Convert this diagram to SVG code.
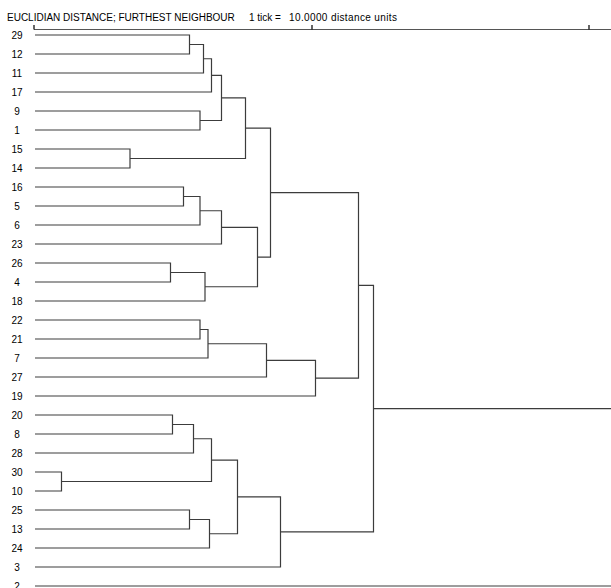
<svg xmlns="http://www.w3.org/2000/svg" width="611" height="588" viewBox="0 0 611 588">
<style>
text{font-family:"Liberation Sans",Arial,sans-serif;font-size:10px;fill:#000}
.lbl{text-anchor:middle}
.ln{fill:none;stroke:#3c3c3c;stroke-width:1.2}
.ax{fill:none;stroke:#555;stroke-width:1.2}
.tk{stroke:#000;stroke-width:1.2}
</style>
<rect width="611" height="588" fill="#fff"/>
<g id="title">
<text x="7" y="21">EUCLIDIAN DISTANCE; FURTHEST NEIGHBOUR<tspan x="249">1 tick =</tspan><tspan x="289" textLength="108" lengthAdjust="spacing">10.0000 distance units</tspan></text>
</g>
<g id="axis">
<path class="ax" d="M34 29.5H611"/>
<path class="tk" d="M34 25V29.5M312 25V29.5M589 25V29.5"/>
</g>
<g id="nodes">
<g id="n29"><text class="lbl" x="17" y="38.5">29</text></g>
<g id="n12"><text class="lbl" x="17" y="57.5">12</text></g>
<g id="n11"><text class="lbl" x="17" y="76.5">11</text></g>
<g id="n17"><text class="lbl" x="17" y="95.5">17</text></g>
<g id="n9"><text class="lbl" x="17" y="114.5">9</text></g>
<g id="n1"><text class="lbl" x="17" y="133.5">1</text></g>
<g id="n15"><text class="lbl" x="17" y="152.5">15</text></g>
<g id="n14"><text class="lbl" x="17" y="171.5">14</text></g>
<g id="n16"><text class="lbl" x="17" y="190.5">16</text></g>
<g id="n5"><text class="lbl" x="17" y="209.5">5</text></g>
<g id="n6"><text class="lbl" x="17" y="228.5">6</text></g>
<g id="n23"><text class="lbl" x="17" y="247.5">23</text></g>
<g id="n26"><text class="lbl" x="17" y="266.5">26</text></g>
<g id="n4"><text class="lbl" x="17" y="285.5">4</text></g>
<g id="n18"><text class="lbl" x="17" y="304.5">18</text></g>
<g id="n22"><text class="lbl" x="17" y="323.5">22</text></g>
<g id="n21"><text class="lbl" x="17" y="342.5">21</text></g>
<g id="n7"><text class="lbl" x="17" y="361.5">7</text></g>
<g id="n27"><text class="lbl" x="17" y="380.5">27</text></g>
<g id="n19"><text class="lbl" x="17" y="399.5">19</text></g>
<g id="n20"><text class="lbl" x="17" y="418.5">20</text></g>
<g id="n8"><text class="lbl" x="17" y="437.5">8</text></g>
<g id="n28"><text class="lbl" x="17" y="456.5">28</text></g>
<g id="n30"><text class="lbl" x="17" y="475.5">30</text></g>
<g id="n10"><text class="lbl" x="17" y="494.5">10</text></g>
<g id="n25"><text class="lbl" x="17" y="513.5">25</text></g>
<g id="n13"><text class="lbl" x="17" y="532.5">13</text></g>
<g id="n24"><text class="lbl" x="17" y="551.5">24</text></g>
<g id="n3"><text class="lbl" x="17" y="570.5">3</text></g>
<g id="n2"><text class="lbl" x="17" y="589.5">2</text></g>
</g>
<g id="connectors" class="ln">
<path class="ln" d="M35 35H189.5V54H35"/>
<path class="ln" d="M189.5 44.5H203.5V73H35"/>
<path class="ln" d="M203.5 58.75H211.5V92H35"/>
<path class="ln" d="M35 111H200V130H35"/>
<path class="ln" d="M211.5 75.4H221.5V120.5H200"/>
<path class="ln" d="M35 149H130V168H35"/>
<path class="ln" d="M221.5 97.9H245.5V158.5H130"/>
<path class="ln" d="M35 187H183.5V206H35"/>
<path class="ln" d="M183.5 196.5H200V225H35"/>
<path class="ln" d="M200 210.75H221.5V244H35"/>
<path class="ln" d="M35 263H170.5V282H35"/>
<path class="ln" d="M170.5 272.5H205V301H35"/>
<path class="ln" d="M221.5 227.4H257.5V286.75H205"/>
<path class="ln" d="M245.5 128.2H270.5V257.1H257.5"/>
<path class="ln" d="M35 320H200V339H35"/>
<path class="ln" d="M200 329.5H208V358H35"/>
<path class="ln" d="M208 343.75H266.5V377H35"/>
<path class="ln" d="M266.5 360.4H315.5V396H35"/>
<path class="ln" d="M270.5 192.6H358.5V378.2H315.5"/>
<path class="ln" d="M35 415H172.5V434H35"/>
<path class="ln" d="M172.5 424.5H193.5V453H35"/>
<path class="ln" d="M35 472H61.5V491H35"/>
<path class="ln" d="M193.5 438.75H211.5V481.5H61.5"/>
<path class="ln" d="M35 510H189.5V529H35"/>
<path class="ln" d="M189.5 519.5H209.5V548H35"/>
<path class="ln" d="M211.5 460.1H237.5V533.75H209.5"/>
<path class="ln" d="M237.5 496.9H280.5V567H35"/>
<path class="ln" d="M358.5 285.4H373.5V531.9H280.5"/>
<path class="ln" d="M373.5 408.7H611"/>
<path class="ln" d="M35 586H611"/>
</g>
</svg>
